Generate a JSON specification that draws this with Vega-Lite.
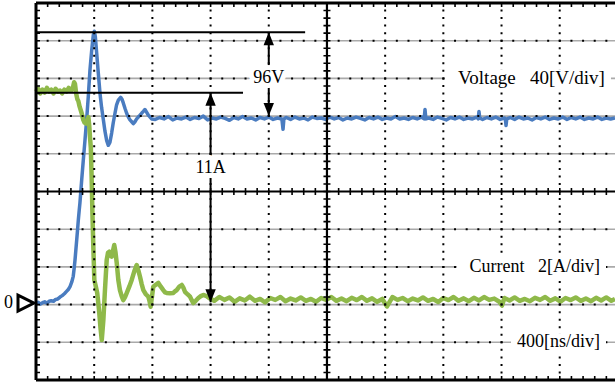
{
  "$schema": "https://vega.github.io/schema/vega-lite/v6.json",
  "width": 579,
  "height": 377,
  "autosize": "none",
  "padding": {"left": 36, "top": 3, "right": 0, "bottom": 9},
  "background": "white",
  "config": {"view": {"stroke": null}},
  "datasets": {
    "voltage": [
      {"t":0,"v":1},{"t":15,"v":2.5},{"t":30,"v":0.5},{"t":45,"v":2},{"t":60,"v":3},{"t":75,"v":1.5},{"t":90,"v":3.5},{"t":105,"v":4},{"t":120,"v":3.5},{"t":135,"v":5.5},{"t":150,"v":6},{"t":165,"v":8},{"t":180,"v":9.5},{"t":195,"v":11.5},{"t":210,"v":14},{"t":222,"v":16},{"t":234,"v":19},{"t":246,"v":24},{"t":256,"v":30},{"t":262,"v":38},{"t":268,"v":47},{"t":274,"v":58},{"t":280,"v":69},{"t":286,"v":80},{"t":291,"v":90},{"t":297,"v":100},{"t":302,"v":108},{"t":308,"v":120},{"t":314,"v":132},{"t":325,"v":153},{"t":337,"v":175},{"t":348,"v":196},{"t":360,"v":222},{"t":371,"v":249},{"t":383,"v":270},{"t":394,"v":286},{"t":401,"v":290},{"t":408,"v":284},{"t":417,"v":267},{"t":428,"v":246},{"t":440,"v":224},{"t":451,"v":209},{"t":463,"v":196},{"t":474,"v":184},{"t":486,"v":174},{"t":497,"v":169},{"t":508,"v":172},{"t":520,"v":182},{"t":531,"v":193},{"t":543,"v":203},{"t":554,"v":212},{"t":566,"v":217},{"t":582,"v":220},{"t":591,"v":218},{"t":600,"v":214},{"t":612,"v":208},{"t":623,"v":203},{"t":635,"v":199},{"t":646,"v":196},{"t":658,"v":194},{"t":669,"v":192},{"t":680,"v":194},{"t":692,"v":197},{"t":703,"v":199},{"t":715,"v":201},{"t":726,"v":203},{"t":738,"v":205},{"t":749,"v":207},{"t":761,"v":204},{"t":772,"v":201},{"t":784,"v":199},{"t":795,"v":197},
      {"t":820,"v":196.5},{"t":850,"v":198.5},{"t":880,"v":197},{"t":910,"v":199.5},{"t":940,"v":196},{"t":970,"v":198},{"t":1000,"v":197},{"t":1030,"v":199},{"t":1060,"v":196.5},{"t":1090,"v":198.5},{"t":1120,"v":197.5},{"t":1150,"v":200},{"t":1180,"v":196},{"t":1210,"v":198},{"t":1240,"v":197},{"t":1270,"v":199},{"t":1300,"v":197.5},{"t":1330,"v":195.5},{"t":1360,"v":198.5},{"t":1390,"v":197},{"t":1420,"v":199.5},{"t":1450,"v":197},{"t":1480,"v":198},{"t":1510,"v":196},{"t":1540,"v":198.5},{"t":1570,"v":197},{"t":1600,"v":199},{"t":1630,"v":196.5},{"t":1660,"v":198},{"t":1690,"v":197},{"t":1698,"v":186},{"t":1704,"v":197},{"t":1720,"v":198.5},{"t":1750,"v":196.5},{"t":1780,"v":199},{"t":1810,"v":197},{"t":1840,"v":198},{"t":1870,"v":196},{"t":1900,"v":199},{"t":1930,"v":197.5},{"t":1960,"v":198},{"t":1990,"v":196.5},{"t":2020,"v":199},{"t":2050,"v":197},{"t":2080,"v":198.5},{"t":2110,"v":196},{"t":2140,"v":198},{"t":2170,"v":197},{"t":2200,"v":199},{"t":2230,"v":197.5},{"t":2260,"v":196},{"t":2290,"v":198.5},{"t":2320,"v":197},{"t":2350,"v":199},{"t":2380,"v":196.5},{"t":2410,"v":198},{"t":2440,"v":197},{"t":2470,"v":199.5},{"t":2500,"v":197},{"t":2530,"v":198},{"t":2560,"v":196.5},{"t":2590,"v":198.5},{"t":2620,"v":197},{"t":2650,"v":199},{"t":2668,"v":197},{"t":2674,"v":207},{"t":2680,"v":197},{"t":2700,"v":198},{"t":2730,"v":196.5},{"t":2760,"v":199},{"t":2790,"v":197.5},{"t":2820,"v":196},{"t":2850,"v":198.5},{"t":2880,"v":197},{"t":2910,"v":199},{"t":2940,"v":196.5},{"t":2970,"v":198},{"t":3000,"v":197},{"t":3030,"v":199},{"t":3040,"v":197},{"t":3045,"v":205},{"t":3050,"v":198},{"t":3070,"v":196.5},{"t":3100,"v":198.5},{"t":3130,"v":197},{"t":3160,"v":199},{"t":3190,"v":196.5},{"t":3220,"v":198},{"t":3226,"v":197},{"t":3231,"v":190},{"t":3236,"v":197},{"t":3260,"v":198.5},{"t":3290,"v":196.5},{"t":3320,"v":199},{"t":3350,"v":197},{"t":3380,"v":198},{"t":3410,"v":196},{"t":3440,"v":198.5},{"t":3470,"v":197},{"t":3500,"v":199},{"t":3530,"v":196.5},{"t":3560,"v":198},{"t":3590,"v":197},{"t":3620,"v":199},{"t":3650,"v":196.5},{"t":3680,"v":198.5},{"t":3710,"v":197},{"t":3740,"v":199},{"t":3770,"v":196.5},{"t":3800,"v":198},{"t":3830,"v":197},{"t":3860,"v":199},{"t":3890,"v":196.5},{"t":3920,"v":198},{"t":3950,"v":197},{"t":3980,"v":198}
    ],
    "current": [
      {"t":0,"i":11.3},{"t":15,"i":11.45},{"t":30,"i":11.2},{"t":45,"i":11.4},{"t":60,"i":11.25},{"t":75,"i":11.5},{"t":90,"i":11.3},{"t":105,"i":11.4},{"t":120,"i":11.2},{"t":135,"i":11.45},{"t":150,"i":11.3},{"t":165,"i":11.35},{"t":180,"i":11.2},{"t":195,"i":11.4},{"t":210,"i":11.3},{"t":225,"i":11.5},{"t":240,"i":11.35},{"t":252,"i":11.45},{"t":262,"i":11.8},{"t":268,"i":11.7},{"t":276,"i":11.2},{"t":284,"i":10.9},{"t":291,"i":10.8},{"t":300,"i":10.5},{"t":314,"i":10.15},{"t":325,"i":9.8},{"t":334,"i":9.65},{"t":344,"i":9.6},{"t":352,"i":9.75},{"t":360,"i":9.95},{"t":366,"i":9.5},{"t":371,"i":8.9},{"t":377,"i":8.3},{"t":383,"i":6.6},{"t":388,"i":4.8},{"t":394,"i":3.1},{"t":401,"i":1.3},{"t":412,"i":0.93},{"t":421,"i":0.62},{"t":428,"i":0.1},{"t":435,"i":-0.45},{"t":443,"i":-1.2},{"t":452,"i":-1.88},{"t":457,"i":-1.4},{"t":463,"i":-0.82},{"t":474,"i":0.77},{"t":486,"i":2.37},{"t":495,"i":2.75},{"t":504,"i":2.81},{"t":512,"i":2.6},{"t":520,"i":2.54},{"t":529,"i":2.85},{"t":538,"i":3.16},{"t":546,"i":2.8},{"t":555,"i":2.21},{"t":566,"i":1.3},{"t":577,"i":0.77},{"t":589,"i":0.45},{"t":600,"i":0.24},{"t":612,"i":0.4},{"t":624,"i":0.62},{"t":641,"i":0.95},{"t":658,"i":1.31},{"t":675,"i":1.75},{"t":692,"i":2.1},{"t":704,"i":1.8},{"t":715,"i":1.48},{"t":726,"i":1.1},{"t":738,"i":0.77},{"t":755,"i":0.55},{"t":772,"i":0.42},{"t":780,"i":0.2},{"t":788,"i":-0.11},{"t":797,"i":0.4},{"t":806,"i":0.95},{"t":823,"i":1.05},{"t":841,"i":1.15},{"t":858,"i":0.95},{"t":875,"i":0.77},{"t":887,"i":0.65},{"t":898,"i":0.62},{"t":920,"i":0.6},{"t":944,"i":0.62},{"t":955,"i":0.7},{"t":967,"i":0.77},{"t":985,"i":0.95},{"t":1002,"i":1.04},{"t":1013,"i":0.9},{"t":1024,"i":0.68},{"t":1041,"i":0.55},{"t":1059,"i":0.42},{"t":1070,"i":0.25},{"t":1081,"i":0.08},{"t":1098,"i":0.2},{"t":1116,"i":0.35},{"t":1133,"i":0.45},{"t":1150,"i":0.51},{"t":1173,"i":0.45},
      {"t":1190,"i":0.35},{"t":1225,"i":0.2},{"t":1260,"i":0.4},{"t":1295,"i":0.25},{"t":1330,"i":0.38},{"t":1365,"i":0.15},{"t":1400,"i":0.33},{"t":1435,"i":0.22},{"t":1470,"i":0.42},{"t":1505,"i":0.2},{"t":1540,"i":0.3},{"t":1575,"i":0.12},{"t":1610,"i":0.35},{"t":1645,"i":0.25},{"t":1680,"i":0.4},{"t":1715,"i":0.18},{"t":1750,"i":0.32},{"t":1785,"i":0.22},{"t":1820,"i":0.38},{"t":1855,"i":0.2},{"t":1890,"i":0.3},{"t":1925,"i":0.15},{"t":1960,"i":0.35},{"t":1995,"i":0.25},{"t":2030,"i":0.4},{"t":2065,"i":0.2},{"t":2100,"i":0.32},{"t":2135,"i":0.18},{"t":2170,"i":0.36},{"t":2205,"i":0.24},{"t":2240,"i":0.4},{"t":2275,"i":0.2},{"t":2310,"i":0.33},{"t":2345,"i":0.15},{"t":2380,"i":0.3},{"t":2413,"i":-0.1},{"t":2450,"i":0.4},{"t":2485,"i":0.25},{"t":2520,"i":0.35},{"t":2555,"i":0.18},{"t":2590,"i":0.32},{"t":2625,"i":0.22},{"t":2660,"i":0.38},{"t":2695,"i":0.2},{"t":2730,"i":0.3},{"t":2765,"i":0.14},{"t":2800,"i":0.35},{"t":2835,"i":0.24},{"t":2870,"i":0.4},{"t":2905,"i":0.2},{"t":2940,"i":0.33},{"t":2975,"i":0.18},{"t":3010,"i":0.36},{"t":3045,"i":0.22},{"t":3080,"i":0.4},{"t":3115,"i":0.25},{"t":3150,"i":0.32},{"t":3185,"i":0.15},{"t":3203,"i":-0.05},{"t":3220,"i":0.35},{"t":3255,"i":0.22},{"t":3290,"i":0.38},{"t":3325,"i":0.2},{"t":3360,"i":0.3},{"t":3395,"i":0.18},{"t":3430,"i":0.36},{"t":3465,"i":0.25},{"t":3500,"i":0.4},{"t":3535,"i":0.2},{"t":3570,"i":0.33},{"t":3605,"i":0.16},{"t":3640,"i":0.35},{"t":3675,"i":0.24},{"t":3710,"i":0.38},{"t":3745,"i":0.2},{"t":3780,"i":0.32},{"t":3815,"i":0.18},{"t":3850,"i":0.36},{"t":3885,"i":0.22},{"t":3920,"i":0.38},{"t":3955,"i":0.2},{"t":3980,"i":0.3}
    ],
    "hdiv": [{"v":-40},{"v":0},{"v":40},{"v":80},{"v":160},{"v":200},{"v":240},{"v":280}],
    "vdiv": [{"t":400},{"t":800},{"t":1200},{"t":1600},{"t":2400},{"t":2800},{"t":3200},{"t":3600}],
    "arrow_v": [{"t":1600,"v":289,"v2":200}],
    "line_v": [{"t":0,"t2":1850,"v":289}],
    "label_96": [{"t":1600,"v":240,"label":"96V"}],
    "label_vscale": [{"t":3911,"v":240,"label":"Voltage\u00a0\u00a0\u00a040[V/div]"}],
    "arrow_i": [{"t":1200,"i":11.24,"i2":0.12}],
    "line_i": [{"t":0,"t2":1423,"i":11.24}],
    "label_11": [{"t":1200,"i":7.25,"label":"11A"}],
    "label_current": [{"t":3877,"i":2,"label":"Current\u00a0\u00a0\u00a02[A/div]"}],
    "label_time": [{"t":3877,"i":-2,"label":"400[ns/div]"}],
    "zero": [{"t":0,"i":0,"label":"0"}]
  },
  "layer": [
    {
      "layer": [
        {
          "data": {"name": "hdiv"},
          "mark": {"type": "rule", "color": "#aaaaaa", "strokeWidth": 1.6},
          "encoding": {
            "y": {"field": "v", "type": "quantitative", "scale": {"domain": [-80, 320], "nice": false}, "axis": null},
            "x": {"datum": 0, "type": "quantitative", "scale": {"domain": [0, 3980], "nice": false}, "axis": null},
            "x2": {"datum": 3980}
          }
        },
        {
          "data": {"name": "voltage"},
          "mark": {"type": "line", "color": "#4a7cc0", "strokeWidth": 3.5, "strokeJoin": "round"},
          "encoding": {
            "x": {"field": "t", "type": "quantitative", "scale": {"domain": [0, 3980], "nice": false}, "axis": null},
            "y": {"field": "v", "type": "quantitative", "scale": {"domain": [-80, 320], "nice": false}, "axis": null}
          }
        }
      ]
    },
    {
      "layer": [
        {
          "data": {"name": "current"},
          "mark": {"type": "line", "color": "#8fb94a", "strokeWidth": 4.5, "strokeJoin": "round"},
          "encoding": {
            "x": {"field": "t", "type": "quantitative", "scale": {"domain": [0, 3980], "nice": false}, "axis": null},
            "y": {"field": "i", "type": "quantitative", "scale": {"domain": [-4, 16], "nice": false}, "axis": null}
          }
        }
      ]
    },
    {
      "layer": [
        {
          "data": {"name": "hdiv"},
          "mark": {"type": "rule", "color": "black", "strokeWidth": 2, "strokeDash": [2, 9.64], "strokeDashOffset": 1},
          "encoding": {
            "y": {"field": "v", "type": "quantitative", "scale": {"domain": [-80, 320], "nice": false}, "axis": null},
            "x": {"datum": 0, "type": "quantitative", "scale": {"domain": [0, 3980], "nice": false}, "axis": null},
            "x2": {"datum": 3980}
          }
        },
        {
          "data": {"name": "vdiv"},
          "mark": {"type": "rule", "color": "black", "strokeWidth": 2, "strokeDash": [2, 5.54], "strokeDashOffset": 1},
          "encoding": {
            "x": {"field": "t", "type": "quantitative", "scale": {"domain": [0, 3980], "nice": false}, "axis": null},
            "y": {"datum": 320, "type": "quantitative", "scale": {"domain": [-80, 320], "nice": false}, "axis": null},
            "y2": {"datum": -80}
          }
        },
        {
          "data": {"values": [{}]},
          "mark": {"type": "rule", "color": "black", "strokeWidth": 7, "strokeDash": [1.6, 5.94], "strokeDashOffset": 0.8},
          "encoding": {
            "x": {"datum": 2000, "type": "quantitative", "scale": {"domain": [0, 3980], "nice": false}, "axis": null},
            "y": {"datum": 320, "type": "quantitative", "scale": {"domain": [-80, 320], "nice": false}, "axis": null},
            "y2": {"datum": -80}
          }
        },
        {
          "data": {"values": [{}]},
          "mark": {"type": "rule", "color": "black", "strokeWidth": 7, "strokeDash": [1.6, 10.04], "strokeDashOffset": 0.8},
          "encoding": {
            "y": {"datum": 120, "type": "quantitative", "scale": {"domain": [-80, 320], "nice": false}, "axis": null},
            "x": {"datum": 0, "type": "quantitative", "scale": {"domain": [0, 3980], "nice": false}, "axis": null},
            "x2": {"datum": 3980}
          }
        },
        {
          "data": {"values": [{}]},
          "mark": {"type": "rule", "color": "black", "strokeWidth": 8, "strokeDash": [1.6, 5.94], "strokeDashOffset": 0.8, "clip": true},
          "encoding": {
            "x": {"datum": 0, "type": "quantitative", "scale": {"domain": [0, 3980], "nice": false}, "axis": null},
            "y": {"datum": 320, "type": "quantitative", "scale": {"domain": [-80, 320], "nice": false}, "axis": null},
            "y2": {"datum": -80}
          }
        },
        {
          "data": {"values": [{"v": 320}, {"v": -80}]},
          "mark": {"type": "rule", "color": "black", "strokeWidth": 8, "strokeDash": [1.6, 10.04], "strokeDashOffset": 0.8, "clip": true},
          "encoding": {
            "y": {"field": "v", "type": "quantitative", "scale": {"domain": [-80, 320], "nice": false}, "axis": null},
            "x": {"datum": 0, "type": "quantitative", "scale": {"domain": [0, 3980], "nice": false}, "axis": null},
            "x2": {"datum": 3980}
          }
        },
        {
          "data": {"values": [{"v": 320}, {"v": -80}]},
          "mark": {"type": "rule", "color": "black", "strokeWidth": 3},
          "encoding": {
            "y": {"field": "v", "type": "quantitative", "scale": {"domain": [-80, 320], "nice": false}, "axis": null},
            "x": {"datum": 0, "type": "quantitative", "scale": {"domain": [0, 3980], "nice": false}, "axis": null},
            "x2": {"datum": 3980}
          }
        },
        {
          "data": {"values": [{}]},
          "mark": {"type": "rule", "color": "black", "strokeWidth": 2.2},
          "encoding": {
            "y": {"datum": 120, "type": "quantitative", "scale": {"domain": [-80, 320], "nice": false}, "axis": null},
            "x": {"datum": 0, "type": "quantitative", "scale": {"domain": [0, 3980], "nice": false}, "axis": null},
            "x2": {"datum": 3980}
          }
        },
        {
          "data": {"values": [{}]},
          "mark": {"type": "rule", "color": "black", "strokeWidth": 2.2},
          "encoding": {
            "x": {"datum": 2000, "type": "quantitative", "scale": {"domain": [0, 3980], "nice": false}, "axis": null},
            "y": {"datum": 320, "type": "quantitative", "scale": {"domain": [-80, 320], "nice": false}, "axis": null},
            "y2": {"datum": -80}
          }
        },
        {
          "data": {"values": [{}]},
          "mark": {"type": "rule", "color": "black", "strokeWidth": 3},
          "encoding": {
            "x": {"datum": 0, "type": "quantitative", "scale": {"domain": [0, 3980], "nice": false}, "axis": null},
            "y": {"datum": 320, "type": "quantitative", "scale": {"domain": [-80, 320], "nice": false}, "axis": null},
            "y2": {"datum": -80}
          }
        },
        {
          "data": {"name": "line_v"},
          "mark": {"type": "rule", "color": "black", "strokeWidth": 2},
          "encoding": {
            "x": {"field": "t", "type": "quantitative", "scale": {"domain": [0, 3980], "nice": false}, "axis": null},
            "x2": {"field": "t2"},
            "y": {"field": "v", "type": "quantitative", "scale": {"domain": [-80, 320], "nice": false}, "axis": null}
          }
        },
        {
          "data": {"name": "arrow_v"},
          "mark": {"type": "rule", "color": "black", "strokeWidth": 2},
          "encoding": {
            "x": {"field": "t", "type": "quantitative", "scale": {"domain": [0, 3980], "nice": false}, "axis": null},
            "y": {"field": "v", "type": "quantitative", "scale": {"domain": [-80, 320], "nice": false}, "axis": null},
            "y2": {"field": "v2"}
          }
        },
        {
          "data": {"name": "label_96"},
          "mark": {"type": "text", "font": "Liberation Serif", "fontSize": 18, "align": "center", "baseline": "middle", "fill": "white", "stroke": "white", "strokeWidth": 10, "strokeJoin": "round"},
          "encoding": {
            "x": {"field": "t", "type": "quantitative", "scale": {"domain": [0, 3980], "nice": false}, "axis": null},
            "y": {"field": "v", "type": "quantitative", "scale": {"domain": [-80, 320], "nice": false}, "axis": null},
            "text": {"field": "label"}
          }
        },
        {
          "data": {"name": "label_96"},
          "mark": {"type": "text", "font": "Liberation Serif", "fontSize": 18, "align": "center", "baseline": "middle", "color": "black"},
          "encoding": {
            "x": {"field": "t", "type": "quantitative", "scale": {"domain": [0, 3980], "nice": false}, "axis": null},
            "y": {"field": "v", "type": "quantitative", "scale": {"domain": [-80, 320], "nice": false}, "axis": null},
            "text": {"field": "label"}
          }
        },
        {
          "data": {"name": "arrow_v"},
          "mark": {"type": "point", "shape": "M0,0L-0.4,1L0.4,1Z", "size": 676, "filled": true, "color": "black", "opacity": 1},
          "encoding": {
            "x": {"field": "t", "type": "quantitative", "scale": {"domain": [0, 3980], "nice": false}, "axis": null},
            "y": {"field": "v", "type": "quantitative", "scale": {"domain": [-80, 320], "nice": false}, "axis": null}
          }
        },
        {
          "data": {"name": "arrow_v"},
          "mark": {"type": "point", "shape": "M0,0L-0.4,-1L0.4,-1Z", "size": 676, "filled": true, "color": "black", "opacity": 1},
          "encoding": {
            "x": {"field": "t", "type": "quantitative", "scale": {"domain": [0, 3980], "nice": false}, "axis": null},
            "y": {"field": "v2", "type": "quantitative", "scale": {"domain": [-80, 320], "nice": false}, "axis": null}
          }
        },
        {
          "data": {"name": "label_vscale"},
          "mark": {"type": "rect", "color": "white", "opacity": 1, "xOffset": 6, "x2Offset": -160, "yOffset": -9, "y2Offset": 9},
          "encoding": {
            "x": {"field": "t", "type": "quantitative", "scale": {"domain": [0, 3980], "nice": false}, "axis": null},
            "x2": {"field": "t"},
            "y": {"field": "v", "type": "quantitative", "scale": {"domain": [-80, 320], "nice": false}, "axis": null},
            "y2": {"field": "v"}
          }
        },
        {
          "data": {"name": "label_vscale"},
          "mark": {"type": "text", "font": "Liberation Serif", "fontSize": 19, "align": "right", "baseline": "middle", "color": "black"},
          "encoding": {
            "x": {"field": "t", "type": "quantitative", "scale": {"domain": [0, 3980], "nice": false}, "axis": null},
            "y": {"field": "v", "type": "quantitative", "scale": {"domain": [-80, 320], "nice": false}, "axis": null},
            "text": {"field": "label"}
          }
        }
      ]
    },
    {
      "layer": [
        {
          "data": {"name": "line_i"},
          "mark": {"type": "rule", "color": "black", "strokeWidth": 2},
          "encoding": {
            "x": {"field": "t", "type": "quantitative", "scale": {"domain": [0, 3980], "nice": false}, "axis": null},
            "x2": {"field": "t2"},
            "y": {"field": "i", "type": "quantitative", "scale": {"domain": [-4, 16], "nice": false}, "axis": null}
          }
        },
        {
          "data": {"name": "arrow_i"},
          "mark": {"type": "rule", "color": "black", "strokeWidth": 2},
          "encoding": {
            "x": {"field": "t", "type": "quantitative", "scale": {"domain": [0, 3980], "nice": false}, "axis": null},
            "y": {"field": "i", "type": "quantitative", "scale": {"domain": [-4, 16], "nice": false}, "axis": null},
            "y2": {"field": "i2"}
          }
        },
        {
          "data": {"name": "label_11"},
          "mark": {"type": "text", "font": "Liberation Serif", "fontSize": 18, "align": "center", "baseline": "middle", "fill": "white", "stroke": "white", "strokeWidth": 10, "strokeJoin": "round"},
          "encoding": {
            "x": {"field": "t", "type": "quantitative", "scale": {"domain": [0, 3980], "nice": false}, "axis": null},
            "y": {"field": "i", "type": "quantitative", "scale": {"domain": [-4, 16], "nice": false}, "axis": null},
            "text": {"field": "label"}
          }
        },
        {
          "data": {"name": "label_11"},
          "mark": {"type": "text", "font": "Liberation Serif", "fontSize": 18, "align": "center", "baseline": "middle", "color": "black"},
          "encoding": {
            "x": {"field": "t", "type": "quantitative", "scale": {"domain": [0, 3980], "nice": false}, "axis": null},
            "y": {"field": "i", "type": "quantitative", "scale": {"domain": [-4, 16], "nice": false}, "axis": null},
            "text": {"field": "label"}
          }
        },
        {
          "data": {"name": "label_current"},
          "mark": {"type": "rect", "color": "white", "opacity": 1, "xOffset": 6, "x2Offset": -143, "yOffset": -9, "y2Offset": 9},
          "encoding": {
            "x": {"field": "t", "type": "quantitative", "scale": {"domain": [0, 3980], "nice": false}, "axis": null},
            "x2": {"field": "t"},
            "y": {"field": "i", "type": "quantitative", "scale": {"domain": [-4, 16], "nice": false}, "axis": null},
            "y2": {"field": "i"}
          }
        },
        {
          "data": {"name": "label_time"},
          "mark": {"type": "rect", "color": "white", "opacity": 1, "xOffset": 6, "x2Offset": -89, "yOffset": -9, "y2Offset": 9},
          "encoding": {
            "x": {"field": "t", "type": "quantitative", "scale": {"domain": [0, 3980], "nice": false}, "axis": null},
            "x2": {"field": "t"},
            "y": {"field": "i", "type": "quantitative", "scale": {"domain": [-4, 16], "nice": false}, "axis": null},
            "y2": {"field": "i"}
          }
        },
        {
          "data": {"name": "label_current"},
          "mark": {"type": "text", "font": "Liberation Serif", "fontSize": 18, "align": "right", "baseline": "middle", "color": "black"},
          "encoding": {
            "x": {"field": "t", "type": "quantitative", "scale": {"domain": [0, 3980], "nice": false}, "axis": null},
            "y": {"field": "i", "type": "quantitative", "scale": {"domain": [-4, 16], "nice": false}, "axis": null},
            "text": {"field": "label"}
          }
        },
        {
          "data": {"name": "label_time"},
          "mark": {"type": "text", "font": "Liberation Serif", "fontSize": 18, "align": "right", "baseline": "middle", "color": "black"},
          "encoding": {
            "x": {"field": "t", "type": "quantitative", "scale": {"domain": [0, 3980], "nice": false}, "axis": null},
            "y": {"field": "i", "type": "quantitative", "scale": {"domain": [-4, 16], "nice": false}, "axis": null},
            "text": {"field": "label"}
          }
        },
        {
          "data": {"name": "arrow_i"},
          "mark": {"type": "point", "shape": "M0,0L-0.4,1L0.4,1Z", "size": 676, "filled": true, "color": "black", "opacity": 1},
          "encoding": {
            "x": {"field": "t", "type": "quantitative", "scale": {"domain": [0, 3980], "nice": false}, "axis": null},
            "y": {"field": "i", "type": "quantitative", "scale": {"domain": [-4, 16], "nice": false}, "axis": null}
          }
        },
        {
          "data": {"name": "arrow_i"},
          "mark": {"type": "point", "shape": "M0,0L-0.4,-1L0.4,-1Z", "size": 676, "filled": true, "color": "black", "opacity": 1},
          "encoding": {
            "x": {"field": "t", "type": "quantitative", "scale": {"domain": [0, 3980], "nice": false}, "axis": null},
            "y": {"field": "i2", "type": "quantitative", "scale": {"domain": [-4, 16], "nice": false}, "axis": null}
          }
        },
        {
          "data": {"name": "zero"},
          "mark": {"type": "point", "shape": "M1,0L-1,-1L-1,1Z", "size": 256, "filled": true, "fill": "white", "stroke": "black", "strokeWidth": 3, "opacity": 1, "xOffset": -10, "yOffset": -1.5},
          "encoding": {
            "x": {"field": "t", "type": "quantitative", "scale": {"domain": [0, 3980], "nice": false}, "axis": null},
            "y": {"field": "i", "type": "quantitative", "scale": {"domain": [-4, 16], "nice": false}, "axis": null}
          }
        },
        {
          "data": {"name": "zero"},
          "mark": {"type": "text", "font": "Liberation Serif", "fontSize": 18, "align": "right", "baseline": "middle", "color": "black", "dx": -23, "dy": -2},
          "encoding": {
            "x": {"field": "t", "type": "quantitative", "scale": {"domain": [0, 3980], "nice": false}, "axis": null},
            "y": {"field": "i", "type": "quantitative", "scale": {"domain": [-4, 16], "nice": false}, "axis": null},
            "text": {"field": "label"}
          }
        }
      ]
    }
  ],
  "resolve": {"scale": {"y": "independent"}}
}
